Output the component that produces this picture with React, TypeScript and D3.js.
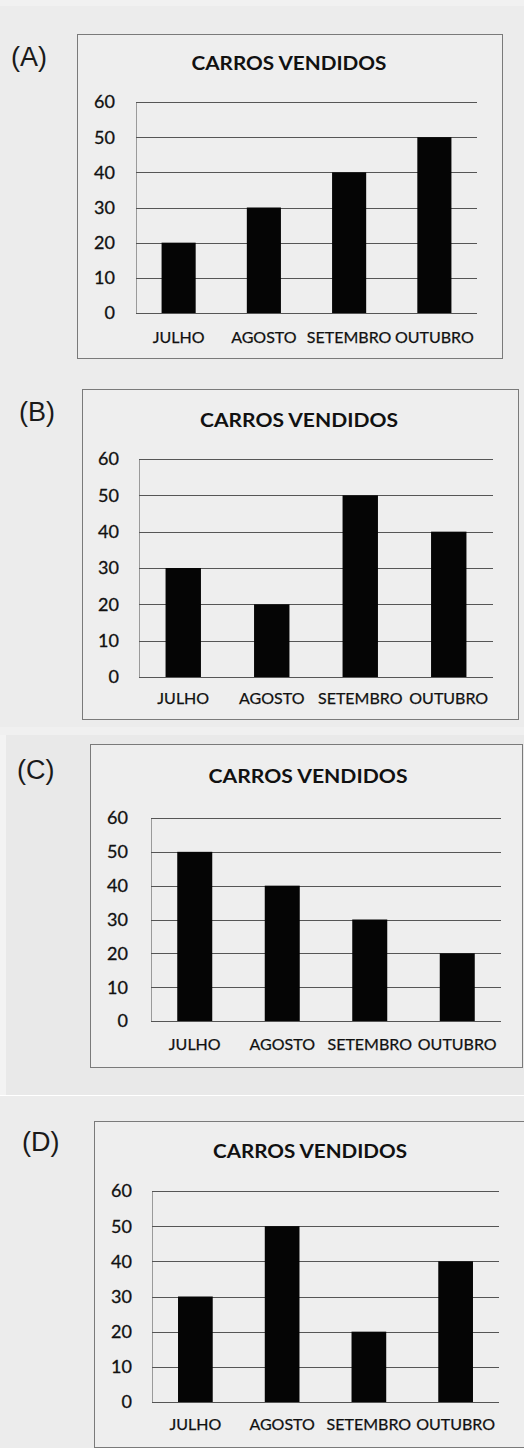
import React from "react";
import * as d3 from "d3";

const categories = ["JULHO", "AGOSTO", "SETEMBRO", "OUTUBRO"];
const valuesA = [20, 30, 40, 50];
const valuesB = [30, 20, 50, 40];
const valuesC = [50, 40, 30, 20];
const valuesD = [30, 50, 20, 40];
const yTicks = [0, 10, 20, 30, 40, 50, 60];
const panelLetters = ["(A)", "(B)", "(C)", "(D)"];
const chartTitle = "CARROS VENDIDOS";

const layouts = [
  { lx: 11, ly: 66, frame: [77, 34, 502, 358], plot: [136, 102, 477, 313], yLabX: 115, tcx: 289, tby: 70, tw: 195, xlb: 343 },
  { lx: 19, ly: 421, frame: [82, 389, 518, 719], plot: [139, 459, 493, 677], yLabX: 119, tcx: 299, tby: 427, tw: 198, xlb: 704 },
  { lx: 17, ly: 779, frame: [90, 744, 522, 1067], plot: [151, 818, 501, 1021], yLabX: 128, tcx: 308, tby: 783, tw: 199, xlb: 1050 },
  { lx: 22, ly: 1151, frame: [94, 1121, 524, 1447], plot: [152, 1191, 499, 1402], yLabX: 132, tcx: 310, tby: 1158, tw: 194, xlb: 1430 },
];

const seriesList = [valuesA, valuesB, valuesC, valuesD];
const FONT = "Lato, 'Open Sans', sans-serif";

function Panel({ values, letter, L }: any) {
  const [px0, py0, px1, py1] = L.plot;
  const x = d3.scaleBand<string>().domain(categories).range([px0, px1]).paddingInner(0.6).paddingOuter(0.3);
  const y = d3.scaleLinear().domain([0, 60]).range([py1, py0]);
  const [fx0, fy0, fx1, fy1] = L.frame;
  return (
    <g>
      <text x={L.lx} y={L.ly} fontFamily="'Liberation Sans', Arial, sans-serif" fontSize={27} fill="#1a1a1a">{letter}</text>
      <rect x={fx0 + 0.5} y={fy0 + 0.5} width={fx1 - fx0} height={fy1 - fy0} fill="#eeeeee" stroke="#7a7a7a" strokeWidth={1} />
      <text x={L.tcx} y={L.tby} textAnchor="middle" fontFamily={FONT} fontWeight={700} fontSize={18} fill="#111" textLength={L.tw} lengthAdjust="spacingAndGlyphs">{chartTitle}</text>
      <line x1={px0 + 0.5} x2={px0 + 0.5} y1={py0} y2={py1} stroke="#9a9a9a" strokeWidth={1} />
      {yTicks.map((t) => (
        <g key={t}>
          <line x1={px0} x2={px1} y1={Math.round(y(t)) + 0.5} y2={Math.round(y(t)) + 0.5} stroke="#555" strokeWidth={1.2} />
          <text x={L.yLabX} y={y(t)} dy="0.36em" textAnchor="end" fontFamily={FONT} fontSize={18} fill="#111" stroke="#111" strokeWidth={0.3}>{t}</text>
        </g>
      ))}
      {categories.map((c, i) => (
        <rect key={c} x={x(c)} y={y(values[i])} width={x.bandwidth()} height={y(0) - y(values[i])} fill="#050505" />
      ))}
      {categories.map((c) => (
        <text key={c} x={(x(c) as number) + x.bandwidth() / 2} y={L.xlb} textAnchor="middle" fontFamily={FONT} fontSize={16} fill="#111" stroke="#111" strokeWidth={0.25}>{c}</text>
      ))}
    </g>
  );
}

export default function App() {
  return (
    <div style={{ position: "absolute", left: 0, top: 0 }}>
      <svg width={524} height={1448} style={{ display: "block" }}>
        <rect x={0} y={0} width={524} height={1448} fill="#ececec" />
        <rect x={0} y={0} width={524} height={6} fill="#f1f1f1" />
        <rect x={0} y={727} width={524} height={8} fill="#f0f0f0" />
        <rect x={6} y={735} width={518} height={360} fill="#e9e9e9" />
        <rect x={0} y={735} width={6} height={360} fill="#f3f3f3" />
        <rect x={0} y={1095} width={524} height={1} fill="#ffffff" />
        {seriesList.map((vals, i) => (
          <Panel key={i} values={vals} letter={panelLetters[i]} L={layouts[i]} />
        ))}
      </svg>
    </div>
  );
}
